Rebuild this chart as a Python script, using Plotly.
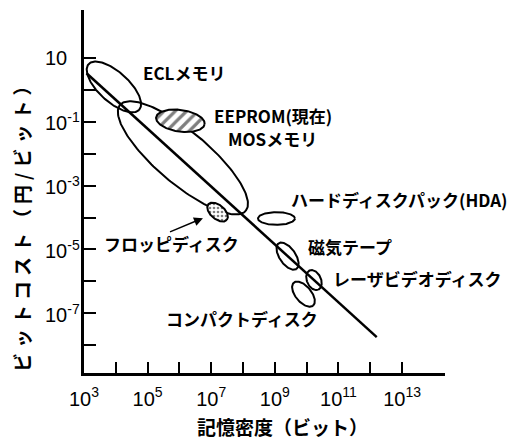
import numpy as np
import plotly.graph_objects as go

# Storage technologies: log10 of bit density (centre), log10 of cost per bit (centre),
# extent of each region in decades along its long / short axis, and its tilt in degrees
devices = ["ECL", "MOS", "EEPROM", "FD", "HDA", "TAPE", "LVD", "CD"]
center_log_bits = [3.94, 6.11, 6.03, 7.20, 9.05, 9.40, 10.23, 9.90]
center_log_cost = [0.09, -2.13, -0.97, -3.83, -4.03, -5.21, -5.96, -6.40]
span_major = [1.07, 2.58, 0.77, 0.38, 0.58, 0.49, 0.33, 0.47]
span_minor = [0.47, 0.82, 0.34, 0.22, 0.20, 0.25, 0.22, 0.25]
tilt_deg = [-42, -40, -8, -40, 0, -55, -65, -50]

# Overall trend of cost versus density
trend_bits = [1.2e3, 1.6e12]
trend_cost = [3.3, 1.8e-8]

# Labels (text, log10 bits, log10 cost) anchored at their left edge
label_text = ["ECLメモリ", "EEPROM(現在)", "MOSメモリ", "ハードディスクパック(HDA)",
              "フロッピディスク", "磁気テープ", "レーザビデオディスク", "コンパクトディスク"]
label_log_bits = [4.82, 7.06, 7.50, 9.48, 3.60, 10.01, 10.80, 5.55]
label_log_cost = [0.53, -0.82, -1.54, -3.45, -4.80, -4.92, -5.90, -7.15]

x_label_exp = [3, 5, 7, 9, 11, 13]
x_minor_exp = [4, 6, 8, 10, 12]
y_tick_exp = [1, -1, -3, -5, -7]
y_minor_exp = [0, -2, -4, -6, -8]

JP = "Noto Sans CJK JP"
NUM = "Liberation Sans"

fig = go.Figure()

fig.add_trace(go.Scatter(
    x=trend_bits, y=trend_cost, mode="lines",
    line=dict(color="black", width=2.5), showlegend=False, hoverinfo="skip"))

t = np.linspace(0, 2 * np.pi, 181)
for name, cx, cy, a, b, ang in zip(devices, center_log_bits, center_log_cost,
                                   span_major, span_minor, tilt_deg):
    th = np.deg2rad(ang)
    lx = cx + a * np.cos(th) * np.cos(t) - b * np.sin(th) * np.sin(t)
    ly = cy + a * np.sin(th) * np.cos(t) + b * np.cos(th) * np.sin(t)
    kw = {}
    if name == "EEPROM":
        kw = dict(fill="toself", fillcolor="white",
                  fillpattern=dict(shape="/", fgcolor="black", bgcolor="white",
                                   size=8, solidity=0.4))
    elif name == "FD":
        kw = dict(fill="toself", fillcolor="white",
                  fillpattern=dict(shape=".", fgcolor="black", bgcolor="white",
                                   size=4, solidity=0.35))
    fig.add_trace(go.Scatter(
        x=10 ** lx, y=10 ** ly, mode="lines", name=name,
        line=dict(color="black", width=2), showlegend=False, hoverinfo="skip", **kw))

annotations = []
for txt, lx, ly in zip(label_text, label_log_bits, label_log_cost):
    annotations.append(dict(
        x=lx, y=ly, xref="x", yref="y", text=txt, showarrow=False,
        xanchor="left", yanchor="middle", borderpad=0,
        font=dict(family=JP, size=17, color="black", weight="bold")))

# pointer to the floppy disk region
annotations.append(dict(
    x=6.74, y=-4.02, ax=5.61, ay=-4.49, xref="x", yref="y", axref="x", ayref="y",
    text=" ", showarrow=True, arrowhead=2, arrowsize=1.2, arrowwidth=1.5,
    arrowcolor="black"))

# y tick labels (left aligned)
for k in y_tick_exp:
    txt = "10" if k == 1 else f"10<sup>{k}</sup>"
    annotations.append(dict(
        x=-0.1136, y=k, xref="paper", yref="y", text=txt, showarrow=False,
        xanchor="left", yanchor="middle",
        font=dict(family=NUM, size=20, color="black")))

# axis titles
annotations.append(dict(
    x=0.55, y=-0.148, xref="paper", yref="paper", text="記憶密度（ビット）",
    showarrow=False, xanchor="center", yanchor="middle", borderpad=0,
    font=dict(family=JP, size=19, color="black", weight="bold")))
annotations.append(dict(
    x=-0.172, y=0.416, xref="paper", yref="paper",
    text="<span style='letter-spacing:5px'>ビットコスト（円/ビット）</span>",
    showarrow=False, xanchor="center", yanchor="middle", textangle=-90,
    font=dict(family=JP, size=19, color="black", weight="bold")))

fig.update_layout(
    width=532, height=441,
    margin=dict(l=84, r=87, t=10, b=68),
    paper_bgcolor="white", plot_bgcolor="white",
    annotations=annotations,
    xaxis=dict(
        type="log", range=[3, 14.35], showgrid=False, zeroline=False,
        showline=True, linecolor="black", linewidth=2.5,
        ticks="inside", ticklen=11, tickwidth=2, tickcolor="black",
        tickvals=[10 ** k for k in x_label_exp],
        ticktext=[f"10<sup>{k}</sup>" for k in x_label_exp],
        ticklabelstandoff=6,
        tickfont=dict(family=NUM, size=20, color="black"),
        minor=dict(tickvals=[10 ** k for k in x_minor_exp], ticks="inside",
                   ticklen=11, tickwidth=2, tickcolor="black", showgrid=False)),
    yaxis=dict(
        type="log", range=[-8.87, 2.5], showgrid=False, zeroline=False,
        showline=True, linecolor="black", linewidth=2.5,
        ticks="inside", ticklen=12, tickwidth=2, tickcolor="black",
        tickvals=[10.0 ** k for k in y_tick_exp],
        showticklabels=False,
        minor=dict(tickvals=[10.0 ** k for k in y_minor_exp], ticks="inside",
                   ticklen=12, tickwidth=2, tickcolor="black", showgrid=False)),
)

fig.write_html("out.html")
